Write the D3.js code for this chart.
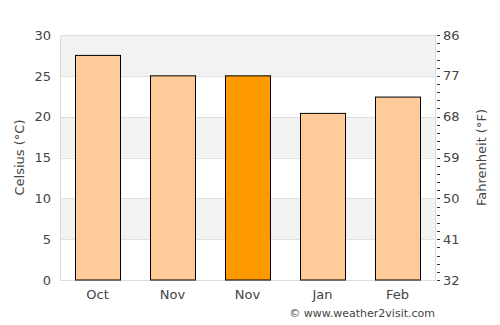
<!DOCTYPE html>
<html>
<head>
<meta charset="utf-8">
<script src="https://cdn.jsdelivr.net/npm/d3@7"></script>
<style>
  body { margin: 0; background: #fff; }
  text { font-family: "DejaVu Sans", sans-serif; fill: #444; }
</style>
</head>
<body>
<div id="chart"></div>
<script>
const months = ["Oct", "Nov", "Nov ", "Jan", "Feb"];
const temps = [27.5, 25.0, 25.0, 20.4, 22.4];
const highlight = [false, false, true, false, false];
const celsiusTicks = [0, 5, 10, 15, 20, 25, 30];
const fahrenheitTicks = [32, 41, 50, 59, 68, 77, 86];

const W = 500, H = 325;
const margin = { top: 35, right: 65, bottom: 45, left: 60 };
const width = W - margin.left - margin.right;
const height = H - margin.top - margin.bottom;

const root = d3.select("#chart")
  .append("svg")
  .attr("width", W)
  .attr("height", H);

const svg = root.append("g")
  .attr("transform", `translate(${margin.left},${margin.top})`);

const x = d3.scaleBand()
  .domain(months)
  .range([0, width])
  .paddingInner(0.4)
  .paddingOuter(0.2);

const y = d3.scaleLinear()
  .domain([0, 30])
  .range([height, 0]);

const yF = d3.scaleLinear()
  .domain([32, 86])
  .range([height, 0]);

// alternating bands
const bands = d3.range(0, 30, 5);
svg.selectAll(".band")
  .data(bands)
  .enter()
  .append("rect")
  .attr("x", 0)
  .attr("width", width)
  .attr("y", d => y(d + 5))
  .attr("height", d => y(d) - y(d + 5))
  .attr("fill", (d, i) => i % 2 === 1 ? "#f2f2f2" : "#fff");

// grid lines
svg.selectAll(".grid")
  .data(celsiusTicks)
  .enter()
  .append("line")
  .attr("x1", 0)
  .attr("x2", width)
  .attr("y1", d => Math.round(y(d)) + 0.5)
  .attr("y2", d => Math.round(y(d)) + 0.5)
  .attr("stroke", "#e0e0e0");

// plot frame
svg.append("rect")
  .attr("x", 0.5)
  .attr("y", 0.5)
  .attr("width", width)
  .attr("height", height)
  .attr("fill", "none")
  .attr("stroke", "#dcdcdc");

// bars
svg.selectAll(".bar")
  .data(temps)
  .enter()
  .append("rect")
  .attr("class", "bar")
  .attr("x", (d, i) => Math.round(x(months[i])) + 0.5)
  .attr("width", x.bandwidth())
  .attr("y", d => y(d))
  .attr("height", d => height - y(d))
  .attr("fill", (d, i) => highlight[i] ? "#ff9900" : "#ffcc99")
  .attr("stroke", "#000")
  .attr("stroke-width", 1);

// left axis
const leftAxis = svg.append("g")
  .call(d3.axisLeft(y).tickValues(celsiusTicks).tickSize(0).tickPadding(9));
leftAxis.select(".domain").remove();
leftAxis.selectAll("text").attr("font-size", 13).style("fill", "#444");

// bottom axis
const bottomAxis = svg.append("g")
  .attr("transform", `translate(0,${height})`)
  .call(d3.axisBottom(x).tickSize(0).tickPadding(10).tickFormat(d => d.trim()));
bottomAxis.select(".domain").remove();
bottomAxis.selectAll("text").attr("font-size", 13).style("fill", "#444");

// right axis (Fahrenheit), minor ticks every 1 °C
const minor = d3.range(0, 31, 1).map(c => 32 + c * 1.8);
svg.append("g")
  .selectAll("line")
  .data(minor)
  .enter()
  .append("line")
  .attr("x1", width + 2)
  .attr("x2", width + 5)
  .attr("y1", d => Math.round(yF(d)) + 0.5)
  .attr("y2", d => Math.round(yF(d)) + 0.5)
  .attr("stroke", "#333");

svg.append("g")
  .selectAll("text")
  .data(fahrenheitTicks)
  .enter()
  .append("text")
  .attr("x", width + 8)
  .attr("y", d => yF(d))
  .attr("dy", "0.35em")
  .attr("font-size", 13)
  .text(d => d);

// axis titles
root.append("text")
  .attr("transform", `translate(24,${margin.top + height / 2}) rotate(-90)`)
  .attr("text-anchor", "middle")
  .attr("font-size", 13)
  .text("Celsius (°C)");

root.append("text")
  .attr("transform", `translate(486,${margin.top + height / 2}) rotate(-90)`)
  .attr("text-anchor", "middle")
  .attr("font-size", 13)
  .text("Fahrenheit (°F)");

root.append("text")
  .attr("x", margin.left + width)
  .attr("y", 317)
  .attr("text-anchor", "end")
  .attr("font-size", 11)
  .text("© www.weather2visit.com");
</script>
</body>
</html>
